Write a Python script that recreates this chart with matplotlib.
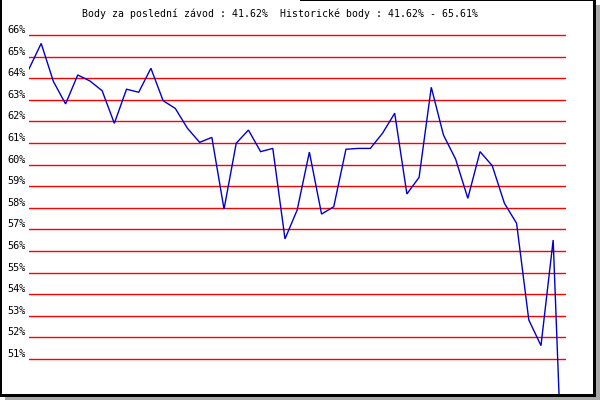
import matplotlib
matplotlib.use("Agg")
import matplotlib.pyplot as plt
from matplotlib.patches import Rectangle
from matplotlib.transforms import ScaledTranslation

# ---- data ----
values = [64.43, 65.61, 63.85, 62.81, 64.15, 63.87, 63.42, 61.91, 63.49, 63.35,
          64.46, 62.96, 62.60, 61.68, 61.03, 61.26, 57.94, 60.99, 61.60, 60.60,
          60.75, 56.56, 57.90, 60.58, 57.71, 58.05, 60.71, 60.75, 60.75, 61.45,
          62.38, 58.64, 59.41, 63.58, 61.37, 60.25, 58.44, 60.60, 59.95, 58.21,
          57.28, 52.81, 51.62, 56.51, 41.62]
grid_levels = [66, 65, 64, 63, 62, 61, 60, 59, 58, 57, 56, 55, 54, 53, 52, 51]
tick_labels = [f"{v}%" for v in grid_levels]
title = "Body za poslední závod : 41.62%  Historické body : 41.62% - 65.61%"

W, H = 600, 400
fig = plt.figure(figsize=(6, 4), dpi=100)
fig.patch.set_facecolor("white")

def fx(px):
    return px / W

def fy(py):
    return (H - py) / H

# axes region in pixels
left, right, top, bottom = 29, 566, 5, 394
ax = fig.add_axes([fx(left), fy(bottom), (right - left) / W, (bottom - top) / H])
ax.set_facecolor("none")
for s in ax.spines.values():
    s.set_visible(False)

px_per_unit = 21.6
step = 12.19
ax.set_xlim(0, (right - left) / step)
ax.set_ylim(66 - (bottom - 35) / px_per_unit, 66 + (35 - top) / px_per_unit)

for g in grid_levels:
    ax.axhline(g, color="#ff0000", lw=1.0, zorder=1)

ax.plot(range(len(values)), values, color="#0000cc", lw=1.0, zorder=2,
        solid_joinstyle="miter")

ax.set_xticks([])
ax.set_yticks(grid_levels)
ax.set_yticklabels(tick_labels, family="DejaVu Sans Mono", fontsize=7.4)
ax.tick_params(axis="y", length=0, pad=2.2)
offset = ScaledTranslation(0, 6 / 100, fig.dpi_scale_trans)
for lab in ax.get_yticklabels():
    lab.set_transform(lab.get_transform() + offset)

fig.text(fx(280), fy(14), title, family="DejaVu Sans Mono", fontsize=7.15,
         ha="center", va="center")

# frame and shadow
def rect(x0, y0, x1, y1, color):
    fig.add_artist(Rectangle((fx(x0), fy(y1)), (x1 - x0) / W, (y1 - y0) / H,
                             transform=fig.transFigure, facecolor=color,
                             edgecolor="none", zorder=10))

rect(596, 5, 600, 400, "#a8a8a8")
rect(5, 397, 600, 400, "#a8a8a8")
rect(0, 0, 2, 397, "black")
rect(0, 394, 596, 397, "black")
rect(593, 0, 596, 397, "black")
rect(300, 0, 596, 1, "black")

fig.savefig("out.png", dpi=100, facecolor="white")
